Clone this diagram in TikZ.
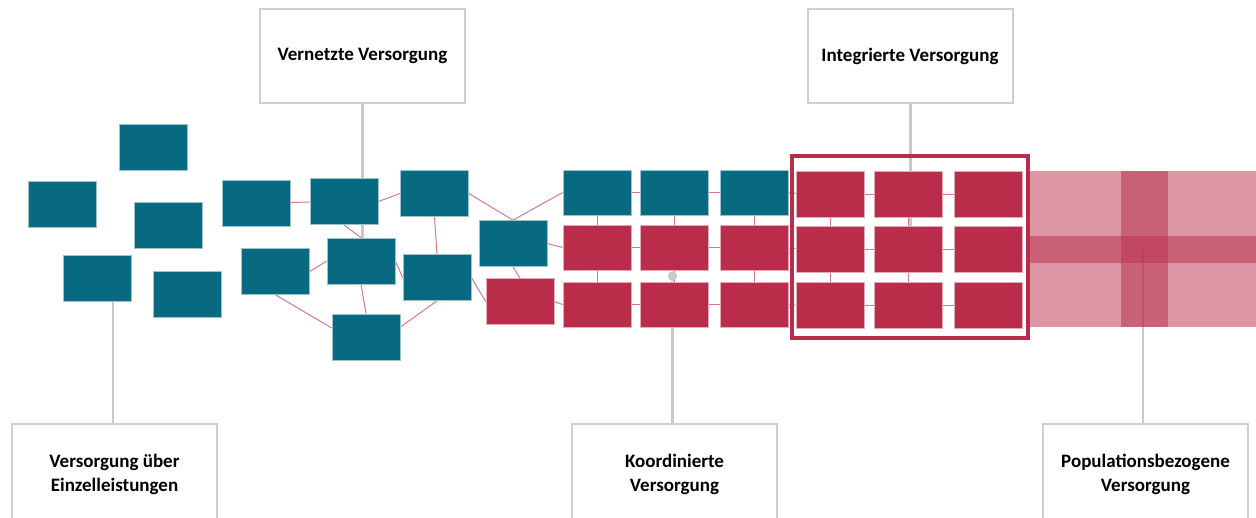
\documentclass[tikz,border=0pt]{standalone}
\usepackage{fontspec}
\setmainfont{Carlito}
\definecolor{tealc}{RGB}{7,106,128}
\definecolor{crim}{RGB}{185,45,75}
\definecolor{pinkl}{RGB}{217,117,140}
\definecolor{grayl}{RGB}{201,201,201}
\definecolor{grayb}{RGB}{207,207,207}
\pgfdeclarelayer{background}
\pgfsetlayers{background,main}
\begin{document}
\begin{tikzpicture}[x=1pt,y=-1pt,
  tb/.style={rectangle, minimum width=68pt, minimum height=46pt, inner sep=0pt, fill=tealc, draw=tealc!40!white, line width=0.7pt},
  cb/.style={tb, fill=crim, draw=crim!40!white},
  lab/.style={rectangle, draw=grayb, line width=2pt, fill=white, minimum width=205pt, minimum height=94pt, inner sep=0pt, align=center, font=\fontsize{19}{24}\selectfont\bfseries},
  con/.style={draw=pinkl, line width=1pt},
  gcon/.style={draw=grayl, line width=2.5pt},
  band/.style={fill=crim, fill opacity=0.5}]
\useasboundingbox (0,0) rectangle (1256,517);

% labels
\node[lab] (vern) at (362.5,56) {Vernetzte Versorgung};
\node[lab] (integ) at (910,56) {Integrierte Versorgung};
\node[lab, minimum height=100pt] (einz) at (114.5,474) {Versorgung über\\Einzelleistungen};
\node[lab, minimum height=100pt] (koord) at (674.5,474) {Koordinierte\\Versorgung};
\node[lab, minimum height=100pt] (pop) at (1145.5,474) {Populationsbezogene\\Versorgung};

% scattered / network boxes
\node[tb] (A) at (153,147) {};
\node[tb] (B) at (62.5,204) {};
\node[tb] (C) at (168,225) {};
\node[tb] (D) at (97,278.5) {};
\node[tb] (E) at (187.5,294.5) {};
\node[tb] (F) at (256,203) {};
\node[tb] (G) at (344,201.5) {};
\node[tb] (H) at (434.5,193.5) {};
\node[tb] (I) at (275.5,271.5) {};
\node[tb] (J) at (361,261) {};
\node[tb] (K) at (437,277.5) {};
\node[tb] (L) at (366,337) {};
\node[tb] (M) at (513,243.5) {};
\node[cb] (N) at (520,301.5) {};

% grids
\foreach \c/\x in {1/597,2/674,3/754.5}{
  \node[tb, minimum height=45pt] (g-1-\c) at (\x,192.5) {};
  \node[cb, minimum height=45pt] (g-2-\c) at (\x,247.5) {};
  \node[cb, minimum height=45pt] (g-3-\c) at (\x,304.5) {};
}
\foreach \c/\x in {4/830,5/908,6/988}{
  \node[cb] (g-1-\c) at (\x,194) {};
  \node[cb] (g-2-\c) at (\x,249) {};
  \node[cb] (g-3-\c) at (\x,305.5) {};
}
\node[draw=crim, line width=4pt, minimum width=236pt, minimum height=182pt, inner sep=0pt] (frame) at (910,247) {};

% population area
\fill[band] (1030,171) rectangle (1256,327);
\fill[band] (1121,171) rectangle (1168,327);
\fill[band] (1030,236) rectangle (1256,263);

\node[circle, fill=grayl, minimum size=9.5pt, inner sep=0pt] (kdot) at (672.5,276) {};

\coordinate (e1) at (113,301);
\coordinate (i1) at (910.5,240);
\coordinate (p1) at (1143,246);

\begin{pgfonlayer}{background}
  % gray connectors
  \draw[gcon] (vern.south) -- (vern.south |- J.north);
  \draw[gcon] (integ.south -| i1) -- (i1);
  \draw[gcon] (e1) -- (e1 |- einz.north);
  \draw[gcon] (kdot) -- (kdot |- koord.north);
  \draw[gcon] (p1) -- (p1 |- pop.north);
  % network connectors
  \draw[con] (F) -- (G);
  \draw[con] (G.east) -- (H.west);
  \draw[con] (G.south) -- (J.north);
  \draw[con] (I.east) -- (J.west);
  \draw[con] (J.east) -- (K.west);
  \draw[con] (J.south) -- (L.north);
  \draw[con] (I.south) -- ([yshift=9pt]L.west);
  \draw[con] ([yshift=10pt]L.east) -- (K.south);
  \draw[con] (H.south) -- (K.north);
  \draw[con] (H.east) -- (M.north);
  \draw[con] (M.north) -- (g-1-1.west);
  \draw[con] (M.east) -- (g-2-1.west);
  \draw[con] (M.south) -- (N.north);
  \draw[con] (K.east) -- (N.west);
  \draw[con] (N.east) -- (g-3-1.west);
  % grid connectors
  \foreach \r in {1,2,3}{
    \foreach \c/\d in {1/2,2/3,3/4,4/5,5/6}{
      \draw[con] (g-\r-\c) -- (g-\r-\d);
    }
  }
  \foreach \c in {1,2,3,4,5}{
    \draw[con] (g-1-\c) -- (g-2-\c);
    \draw[con] (g-2-\c) -- (g-3-\c);
  }
\end{pgfonlayer}
\end{tikzpicture}
\end{document}
